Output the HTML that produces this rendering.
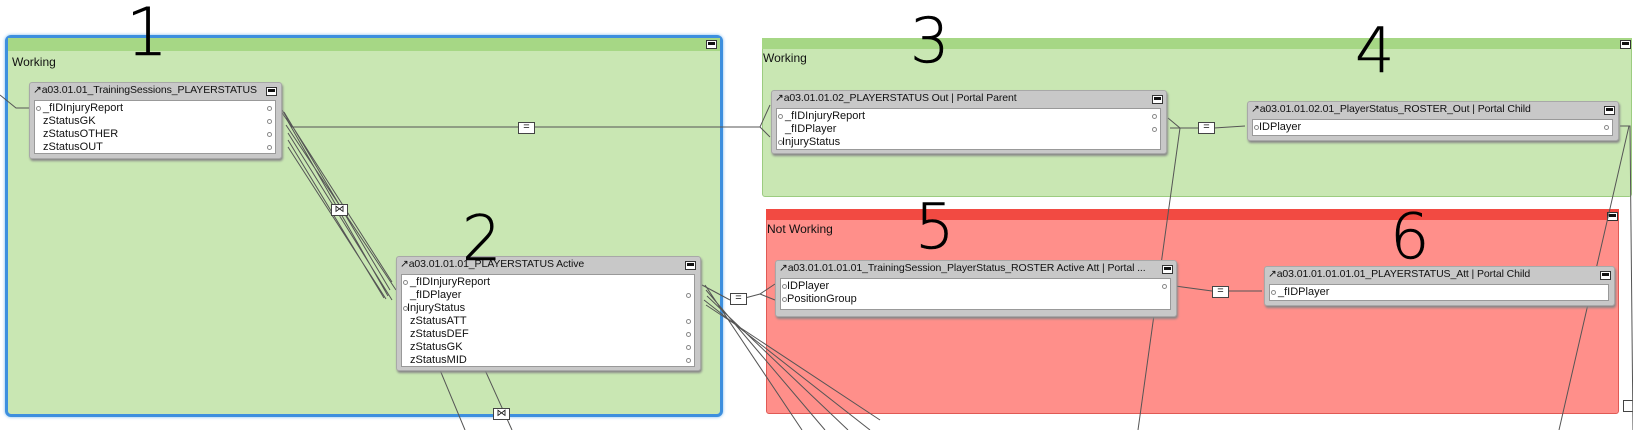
<!DOCTYPE html>
<html><head><meta charset="utf-8"><style>
body{margin:0;width:1633px;height:430px;background:#fff;position:relative;overflow:hidden;font-family:"Liberation Sans",sans-serif;font-size:11px;color:#111}
.abs{position:absolute}
.grp{position:absolute;border-radius:3px}
.tbl{position:absolute;background:#c8c8c8;border:1px solid #a8a8a8;border-radius:3px;box-shadow:1px 2px 2px #888}
.th{position:absolute;left:3px;top:1px;white-space:nowrap;font-size:10.5px;letter-spacing:-0.1px}
.body{position:absolute;left:4px;right:5px;background:#fff;border:1px solid #999}
.row{position:absolute;left:8px;white-space:nowrap}
.dot{position:absolute;width:3px;height:3px;border:1px solid #888;border-radius:50%}
.min{position:absolute;width:9px;height:7px;border:1px solid #333;background:#fff}
.min:after{content:"";position:absolute;left:1px;top:1px;width:7px;height:3px;background:#111}
.eq{position:absolute;width:15px;height:10px;border:1px solid #444;background:#fff;font-size:11px;line-height:9px;text-align:center}
.num{position:absolute;font-family:"DejaVu Sans",sans-serif;font-weight:200;font-size:62px;color:#000;line-height:1;-webkit-text-stroke:0.5px #000}
</style></head><body>

<div class="grp" style="left:5px;top:35px;width:712px;height:376px;border:3px solid #3d8fde;background:#c9e7b3;border-radius:6px;box-shadow:0 0 3px #7ab8ef"></div>
<div class="abs" style="left:8px;top:38px;width:712px;height:13px;background:#a6d785"></div>
<div class="min" style="left:706px;top:40px"></div>
<div class="abs" style="left:12px;top:55px;font-size:12px">Working</div>

<div class="grp" style="left:762px;top:38px;width:868px;height:157px;background:#c9e7b3;border:1px solid #9ccc80"></div>
<div class="abs" style="left:762px;top:38px;width:870px;height:11px;background:#a6d785"></div>
<div class="min" style="left:1620px;top:40px"></div>
<div class="abs" style="left:763px;top:51px;font-size:12px">Working</div>

<div class="grp" style="left:766px;top:209px;width:851px;height:203px;background:#ff8f8a;border:1px solid #e05a55"></div>
<div class="abs" style="left:766px;top:209px;width:853px;height:11px;background:#f24a42"></div>
<div class="min" style="left:1607px;top:212px"></div>
<div class="abs" style="left:767px;top:222px;font-size:12px">Not Working</div>
<div class="abs" style="left:1623px;top:400px;width:10px;height:10px;border:1px solid #444;background:#fff"></div>

<svg class="abs" style="left:0;top:0" width="1633" height="430">
<g stroke="#555" stroke-width="1" fill="none">
<path d="M0,95 L16,108 L29,108"/>
<path d="M280,110 L292,127 L518,127 M535,127 L760,127 L770,105 M760,127 L770,137"/>
<path d="M282,110 L392,282 M284,112 L390,290 M286,118 L388,296 M286,125 L396,290 M288,133 L392,300 M288,140 L384,298 M288,147 L386,299"/>
<path d="M440,370 L465,430 M485,370 L512,430"/>
<path d="M702,285 L730,300 M745,298 L760,294 L775,284 M760,294 L775,300"/>
<path d="M705,285 L802,430 M706,290 L825,430 M707,296 L848,430 M704,300 L870,430 M706,305 L880,420"/>
<path d="M1168,118 L1180,128 L1198,128 M1214,128 L1245,126 M1170,128 L1180,128"/>
<path d="M1180,128 L1138,430"/>
<path d="M1175,286 L1212,291 M1228,291 L1262,291"/>
<path d="M1620,126 L1630,126 L1633,430 M1629,126 L1559,430"/>
</g>
</svg>

<div class="eq" style="left:518px;top:122px">=</div>
<div class="eq" style="left:331px;top:204px;font-size:10px">⋈</div>
<div class="eq" style="left:493px;top:408px;font-size:10px">⋈</div>
<div class="eq" style="left:730px;top:293px">=</div>
<div class="eq" style="left:1198px;top:122px">=</div>
<div class="eq" style="left:1212px;top:286px">=</div>

<div class="tbl" style="left:29px;top:82px;width:251px;height:75px">
<div class="th">↗a03.01.01_TrainingSessions_PLAYERSTATUS</div><div class="min" style="left:236px;top:4px"></div>
<div class="body" style="top:17px;height:52px">
<div class="row" style="top:1px">_fIDInjuryReport</div><div class="row" style="top:14px">zStatusGK</div><div class="row" style="top:27px">zStatusOTHER</div><div class="row" style="top:40px">zStatusOUT</div>
<div class="dot" style="left:1px;top:5px"></div>
<div class="dot" style="right:3px;top:5px"></div><div class="dot" style="right:3px;top:18px"></div><div class="dot" style="right:3px;top:31px"></div><div class="dot" style="right:3px;top:44px"></div>
</div></div>

<div class="tbl" style="left:396px;top:256px;width:303px;height:113px">
<div class="th">↗a03.01.01.01_PLAYERSTATUS Active</div><div class="min" style="left:288px;top:4px"></div>
<div class="body" style="top:17px;height:91px">
<div class="row" style="top:1px">_fIDInjuryReport</div><div class="row" style="top:14px">_fIDPlayer</div><div class="row" style="top:27px;left:5px">InjuryStatus</div><div class="row" style="top:40px">zStatusATT</div><div class="row" style="top:53px">zStatusDEF</div><div class="row" style="top:66px">zStatusGK</div><div class="row" style="top:79px">zStatusMID</div>
<div class="dot" style="left:1px;top:5px"></div><div class="dot" style="left:1px;top:31px"></div>
<div class="dot" style="right:3px;top:18px"></div><div class="dot" style="right:3px;top:44px"></div><div class="dot" style="right:3px;top:57px"></div><div class="dot" style="right:3px;top:70px"></div><div class="dot" style="right:3px;top:83px"></div>
</div></div>

<div class="tbl" style="left:771px;top:90px;width:394px;height:62px">
<div class="th">↗a03.01.01.02_PLAYERSTATUS Out | Portal Parent</div><div class="min" style="left:380px;top:4px"></div>
<div class="body" style="top:17px;height:40px">
<div class="row" style="top:1px">_fIDInjuryReport</div><div class="row" style="top:14px">_fIDPlayer</div><div class="row" style="top:27px;left:5px">InjuryStatus</div>
<div class="dot" style="left:1px;top:5px"></div><div class="dot" style="left:1px;top:31px"></div>
<div class="dot" style="right:3px;top:5px"></div><div class="dot" style="right:3px;top:18px"></div>
</div></div>

<div class="tbl" style="left:1247px;top:101px;width:370px;height:38px">
<div class="th">↗a03.01.01.02.01_PlayerStatus_ROSTER_Out | Portal Child</div><div class="min" style="left:356px;top:4px"></div>
<div class="body" style="top:17px;height:15px">
<div class="row" style="top:1px;left:6px">IDPlayer</div><div class="dot" style="left:1px;top:5px"></div><div class="dot" style="right:3px;top:5px"></div>
</div></div>

<div class="tbl" style="left:775px;top:260px;width:400px;height:55px">
<div class="th">↗a03.01.01.01.01_TrainingSession_PlayerStatus_ROSTER Active Att | Portal ...</div><div class="min" style="left:386px;top:4px"></div>
<div class="body" style="top:17px;height:30px">
<div class="row" style="top:1px;left:6px">IDPlayer</div><div class="row" style="top:14px;left:6px">PositionGroup</div>
<div class="dot" style="left:1px;top:5px"></div><div class="dot" style="left:1px;top:18px"></div><div class="dot" style="right:3px;top:5px"></div>
</div></div>

<div class="tbl" style="left:1264px;top:266px;width:349px;height:38px">
<div class="th">↗a03.01.01.01.01.01_PLAYERSTATUS_Att | Portal Child</div><div class="min" style="left:335px;top:4px"></div>
<div class="body" style="top:17px;height:15px">
<div class="row" style="top:1px">_fIDPlayer</div><div class="dot" style="left:1px;top:5px"></div>
</div></div>

<div class="num" style="left:126px;top:0px;font-size:66px">1</div>
<div class="num" style="left:462px;top:208px">2</div>
<div class="num" style="left:910px;top:10px">3</div>
<div class="num" style="left:1355px;top:20px">4</div>
<div class="num" style="left:915px;top:196px">5</div>
<div class="num" style="left:1390px;top:206px">6</div>
</body></html>
